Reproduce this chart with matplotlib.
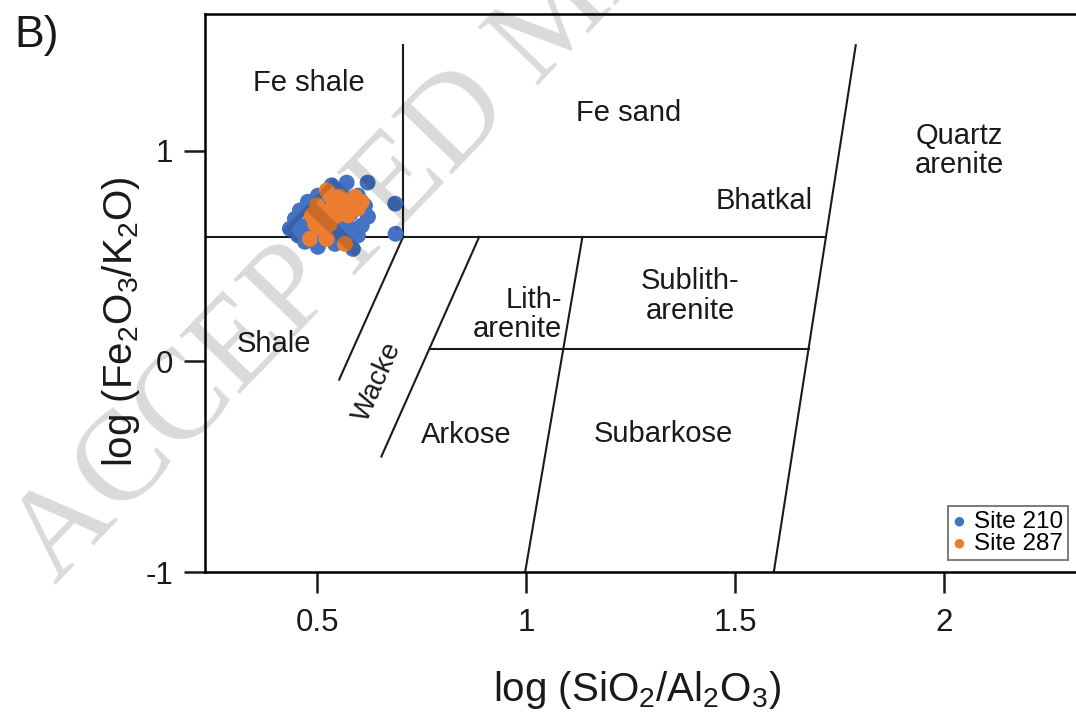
import matplotlib
matplotlib.use("Agg")
import matplotlib.pyplot as plt

plt.rcParams['font.family'] = ['Liberation Sans', 'DejaVu Sans']
plt.rcParams['mathtext.fontset'] = 'custom'
plt.rcParams['mathtext.rm'] = 'Liberation Sans'
plt.rcParams['mathtext.it'] = 'Liberation Sans'

# ---- data ----
site210_x = [0.571, 0.621, 0.687, 0.688, 0.435, 0.447, 0.459, 0.478, 0.502, 0.535,
             0.559, 0.598, 0.615, 0.622, 0.607, 0.598, 0.586, 0.543, 0.502, 0.471,
             0.495, 0.455, 0.583, 0.559, 0.519, 0.487, 0.543,
             0.520, 0.500, 0.530, 0.560, 0.580, 0.510, 0.570, 0.470, 0.600, 0.550]
site210_y = [0.848, 0.848, 0.748, 0.605, 0.629, 0.676, 0.716, 0.757, 0.786, 0.835,
             0.805, 0.786, 0.738, 0.686, 0.644, 0.597, 0.533, 0.557, 0.543, 0.567,
             0.597, 0.597, 0.629, 0.676, 0.644, 0.676, 0.724,
             0.700, 0.660, 0.600, 0.630, 0.700, 0.760, 0.590, 0.640, 0.760, 0.580]
site287_x = [0.523, 0.531, 0.591, 0.579, 0.559, 0.598, 0.574, 0.547, 0.502, 0.487,
             0.495, 0.511, 0.483, 0.523, 0.567, 0.526, 0.555, 0.607,
             0.540, 0.510, 0.500, 0.560, 0.530, 0.585]
site287_y = [0.811, 0.787, 0.781, 0.757, 0.740, 0.724, 0.692, 0.692, 0.724, 0.692,
             0.652, 0.629, 0.581, 0.581, 0.557, 0.710, 0.781, 0.757,
             0.750, 0.670, 0.740, 0.710, 0.650, 0.740]

# classification field boundaries (x0, y0, x1, y1)
boundary_lines = [
    (0.232, 0.59, 1.718, 0.59),   # Fe line
    (0.706, 0.59, 0.706, 1.50),   # Fe shale / Fe sand
    (1.593, -1.0, 1.789, 1.50),   # quartz arenite
    (0.998, -1.0, 1.135, 0.59),   # arkose-subarkose / lith-sublith
    (0.770, 0.06, 1.676, 0.06),   # arkose / litharenite
    (0.654, -0.452, 0.888, 0.59), # wacke / arkose
    (0.553, -0.087, 0.706, 0.59), # shale / wacke
]

field_labels = ["Fe shale", "Fe sand", "Quartz\narenite", "Bhatkal", "Sublith-\narenite",
                "Lith-\narenite", "Shale", "Arkose", "Subarkose"]
field_x = [0.481, 1.245, 2.036, 1.569, 1.393, 1.087, 0.396, 0.858, 1.328]
field_y = [1.322, 1.178, 1.000, 0.760, 0.310, 0.220, 0.083, -0.348, -0.347]
field_ha = ["center", "center", "center", "center", "center", "right", "center", "center", "center"]

xticks = [0.5, 1, 1.5, 2]
xtick_labels = ["0.5", "1", "1.5", "2"]
yticks = [-1, 0, 1]
ytick_labels = ["-1", "0", "1"]

# ---- figure ----
fig = plt.figure(figsize=(10.76, 7.2), dpi=100)
ax = fig.add_axes([205/1076, 1-572/720, 1-205/1076, (572-14)/720])
ax.set_xlim(0.232, 2.316)
ax.set_ylim(-1.0, 1.648)

for sp in ['left', 'top', 'bottom']:
    ax.spines[sp].set_linewidth(1.8)
ax.spines['right'].set_visible(False)

for (x0, y0, x1, y1) in boundary_lines:
    ax.plot([x0, x1], [y0, y1], color='#1a1a1a', lw=1.5, zorder=2)

for lab, x, y, ha in zip(field_labels, field_x, field_y, field_ha):
    ax.text(x, y, lab, ha=ha, va='center', fontsize=21, color='#1a1a1a',
            multialignment=ha, linespacing=1.05, zorder=3)
ax.text(0.644, -0.098, "Wacke", rotation=66, ha='center', va='center',
        fontsize=20, color='#1a1a1a', zorder=3)

ax.scatter(site210_x, site210_y, s=130, color='#4472C4', edgecolors='none',
           label='Site 210', zorder=4)
ax.scatter(site287_x, site287_y, s=130, color='#ED7D31', edgecolors='none',
           label='Site 287', zorder=5)

ax.set_xticks(xticks)
ax.set_xticklabels(xtick_labels)
ax.set_yticks(yticks)
ax.set_yticklabels(ytick_labels)
ax.tick_params(axis='both', direction='out', length=15, width=1.8,
               labelsize=22.5, color='#1a1a1a', labelcolor='#1a1a1a')
ax.tick_params(axis='x', pad=11)
ax.tick_params(axis='y', pad=8)

leg = ax.legend(loc='lower right', bbox_to_anchor=(1068/1076, 1-560/720),
                bbox_transform=fig.transFigure, fontsize=17.5, frameon=True,
                fancybox=False, edgecolor='#707070', framealpha=1,
                handlelength=0.5, handletextpad=0.35, borderpad=0.2,
                labelspacing=0.0, markerscale=0.6, borderaxespad=0)
leg.get_frame().set_linewidth(1.3)

fig.text(637/1076, 1-690/720, r'log (SiO$_2$/Al$_2$O$_3$)', ha='center', va='center',
         fontsize=29, color='#1a1a1a')
fig.text(142/1076, 1-322/720, r'log (Fe$_2$O$_3$/K$_2$O)', ha='right', va='center',
         rotation=90, fontsize=29, color='#1a1a1a')
fig.text(37/1076, 1-36/720, 'B)', ha='center', va='center', fontsize=32, color='#1a1a1a')

# watermark
fig.text(55/1076, 1-585/720, 'ACCEPTED MANUSCRIPT', rotation=46, rotation_mode='anchor',
         ha='left', va='baseline', fontsize=92, family='Liberation Serif',
         color='black', alpha=0.15, zorder=10)

fig.savefig('out.png', dpi=100)
